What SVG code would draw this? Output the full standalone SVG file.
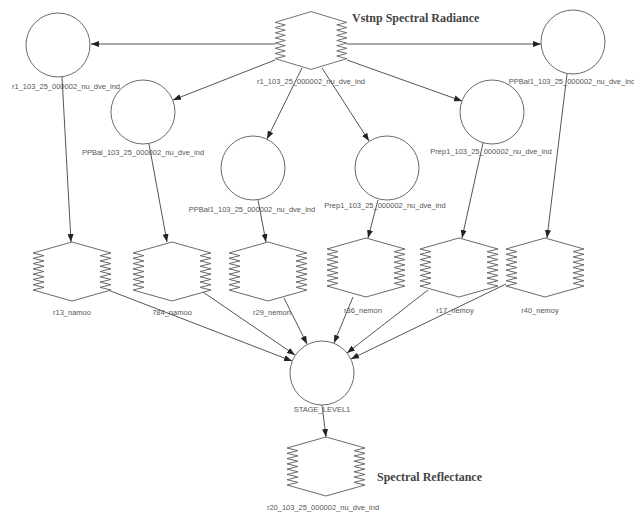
<svg xmlns="http://www.w3.org/2000/svg" xmlns:xlink="http://www.w3.org/1999/xlink" width="634" height="513" viewBox="0 0 634 513">
<style>
.bg{fill:#fff}
.circ{fill:#fff;stroke:#6a6a6a;stroke-width:1}
.hexs{fill:#fff;stroke:#6a6a6a;stroke-width:1}
.edge{fill:none;stroke:#555;stroke-width:1;marker-end:url(#arr)}
.lbl{font-family:"Liberation Sans",Arial,sans-serif;font-size:7.5px;fill:#555;text-anchor:middle}
.ttl{font-family:"Liberation Serif","Times New Roman",serif;font-size:12px;font-weight:bold;fill:#444}
</style>
<defs>
<marker id="arr" markerUnits="userSpaceOnUse" markerWidth="8" markerHeight="8" viewBox="0 0 8 8" refX="8" refY="4" orient="auto">
<path d="M0,1 L8,4 L0,7 Z" fill="#222"/>
</marker>
<path id="hex" class="hexs" d="M0,-30 L39,-19 L28,-16.36 L39,-13.71 L28,-11.07 L39,-8.43 L28,-5.79 L39,-3.14 L28,-0.5 L39,2.14 L28,4.79 L39,7.43 L28,10.07 L39,12.71 L28,15.36 L39,18 L0,29 L-39,18 L-28,15.36 L-39,12.71 L-28,10.07 L-39,7.43 L-28,4.79 L-39,2.14 L-28,-0.5 L-39,-3.14 L-28,-5.79 L-39,-8.43 L-28,-11.07 L-39,-13.71 L-28,-16.36 L-39,-19 Z"/>
</defs>
<rect class="bg" x="0" y="0" width="634" height="513"/>

<g id="connectors">
<line class="edge" x1="275" y1="44" x2="91" y2="44"/>
<line class="edge" x1="347" y1="44" x2="541" y2="44"/>
<line class="edge" x1="275" y1="60" x2="173" y2="100"/>
<line class="edge" x1="347" y1="60" x2="462" y2="101"/>
<line class="edge" x1="302" y1="68" x2="267" y2="139"/>
<line class="edge" x1="322" y1="68" x2="369" y2="141"/>
<line class="edge" x1="62" y1="77" x2="71" y2="242"/>
<line class="edge" x1="149" y1="144" x2="167" y2="242"/>
<line class="edge" x1="258" y1="200" x2="266" y2="242"/>
<line class="edge" x1="378" y1="200" x2="368" y2="238"/>
<line class="edge" x1="483" y1="143" x2="462" y2="238"/>
<line class="edge" x1="567" y1="74" x2="547" y2="238"/>
<line class="edge" x1="108" y1="290" x2="292" y2="361"/>
<line class="edge" x1="200" y1="290" x2="295" y2="355"/>
<line class="edge" x1="284" y1="298" x2="307" y2="344"/>
<line class="edge" x1="353" y1="297" x2="334" y2="343"/>
<line class="edge" x1="428" y1="290" x2="347" y2="353"/>
<line class="edge" x1="506" y1="284" x2="351" y2="359"/>
<line class="edge" x1="322" y1="405" x2="326" y2="437"/>
</g>

<g id="src">
<use xlink:href="#hex" transform="translate(311,41) scale(0.92,0.98)"/>
<text class="lbl" x="311" y="84">r1_103_25_000002_nu_dve_ind</text>
<text class="ttl" x="352" y="22">Vstnp Spectral Radiance</text>
</g>

<g id="cA"><circle class="circ" cx="58" cy="45" r="32"/><text class="lbl" x="66" y="89">r1_103_25_000002_nu_dve_ind</text></g>
<g id="cB"><circle class="circ" cx="143" cy="112" r="32"/><text class="lbl" x="143" y="155">PPBal_103_25_000002_nu_dve_ind</text></g>
<g id="cC"><circle class="circ" cx="253" cy="168" r="32"/><text class="lbl" x="252" y="212">PPBal1_103_25_000002_nu_dve_ind</text></g>
<g id="cD"><circle class="circ" cx="387" cy="168" r="32"/><text class="lbl" x="385" y="208">Prep1_103_25_000002_nu_dve_ind</text></g>
<g id="cE"><circle class="circ" cx="492" cy="112" r="32"/><text class="lbl" x="491" y="154">Prep1_103_25_000002_nu_dve_ind</text></g>
<g id="cF"><circle class="circ" cx="573" cy="42" r="32"/><text class="lbl" x="572" y="84">PPBal1_103_25_000002_nu_dve_ind</text></g>

<g id="h1"><use xlink:href="#hex" transform="translate(72,272)"/><text class="lbl" x="72" y="315">r13_namoo</text></g>
<g id="h2"><use xlink:href="#hex" transform="translate(172,272)"/><text class="lbl" x="172" y="315">784_namoo</text></g>
<g id="h3"><use xlink:href="#hex" transform="translate(268,272)"/><text class="lbl" x="272" y="315">r29_nemon</text></g>
<g id="h4"><use xlink:href="#hex" transform="translate(366,268)"/><text class="lbl" x="363" y="313">r36_nemon</text></g>
<g id="h5"><use xlink:href="#hex" transform="translate(459,268)"/><text class="lbl" x="455" y="313">r17_nemoy</text></g>
<g id="h6"><use xlink:href="#hex" transform="translate(545,268)"/><text class="lbl" x="540" y="313">r40_nemoy</text></g>

<g id="cG"><circle class="circ" cx="322" cy="373" r="32"/><text class="lbl" x="322" y="412">STAGE_LEVEL1</text></g>

<g id="out">
<use xlink:href="#hex" transform="translate(326,467)"/>
<text class="lbl" x="323" y="510">r20_103_25_000002_nu_dve_ind</text>
<text class="ttl" x="377" y="481">Spectral Reflectance</text>
</g>
</svg>
